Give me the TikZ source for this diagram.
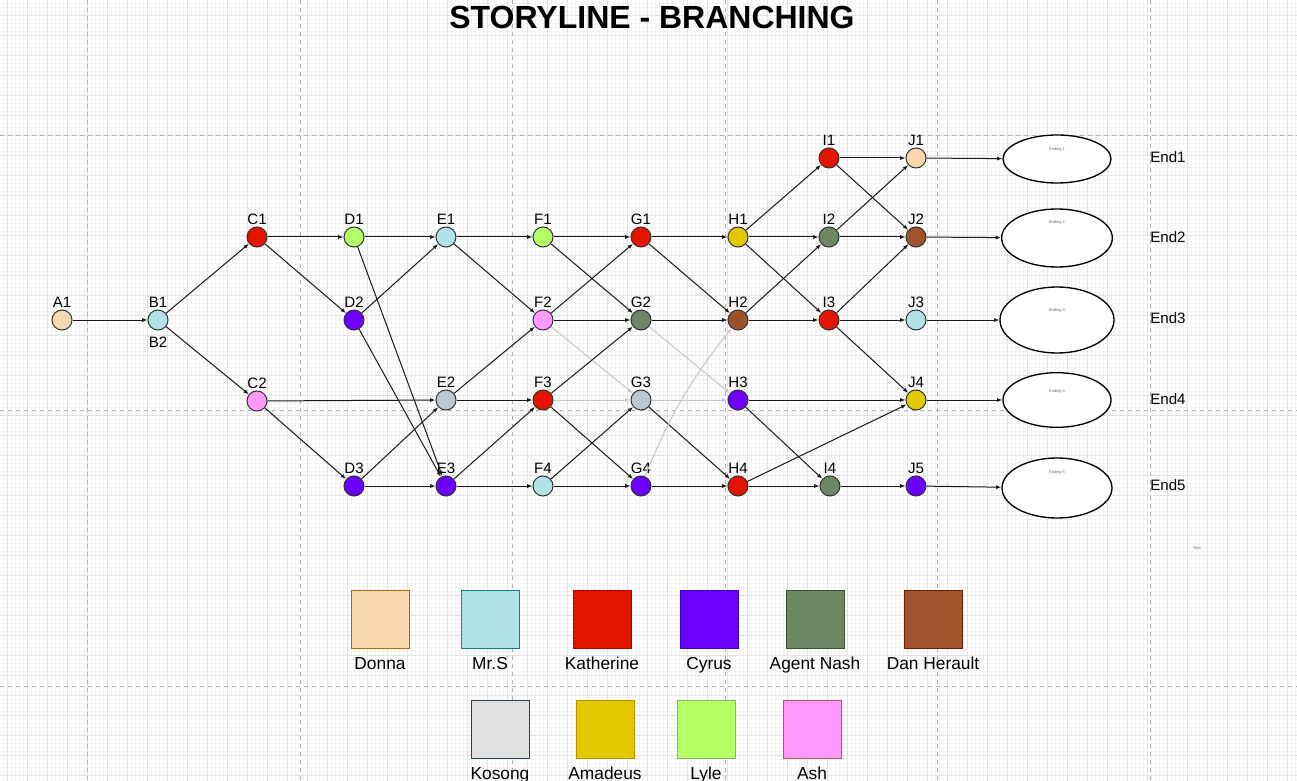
\documentclass[tikz,border=0pt]{standalone}
\usepackage{fontspec}
\setmainfont{Liberation Sans}
\usetikzlibrary{arrows.meta,shapes.geometric}
\definecolor{cDonna}{HTML}{FAD7AC}\definecolor{sDonna}{HTML}{B46504}
\definecolor{cMrs}{HTML}{B0E3E6}\definecolor{sMrs}{HTML}{0E8088}
\definecolor{cKath}{HTML}{E51400}\definecolor{sKath}{HTML}{B20000}
\definecolor{cCyrus}{HTML}{6A00FF}\definecolor{sCyrus}{HTML}{3700CC}
\definecolor{cNash}{HTML}{6D8764}\definecolor{sNash}{HTML}{3A5431}
\definecolor{cDan}{HTML}{A0522D}\definecolor{sDan}{HTML}{6D1F00}
\definecolor{cKos}{HTML}{BAC8D3}\definecolor{cKosL}{HTML}{E0E0E0}\definecolor{sKos}{HTML}{23445D}
\definecolor{cAma}{HTML}{E3C800}\definecolor{sAma}{HTML}{B09500}
\definecolor{cLyle}{HTML}{B3FF66}\definecolor{sLyle}{HTML}{82B366}
\definecolor{cAsh}{HTML}{FF99FF}\definecolor{sAsh}{HTML}{B85450}
\definecolor{gMinor}{HTML}{F4F4F4}\definecolor{gMajor}{HTML}{E2E2E2}\definecolor{gDash}{HTML}{B0B0B0}
\begin{document}
\begin{tikzpicture}[x=0.75pt,y=-0.75pt,
  pt/.style={circle,draw=black!80,line width=0.75pt,fill=#1,minimum size=15pt,inner sep=0pt},
  lbl/.style={font=\fontsize{11.3}{13}\selectfont,inner sep=1.3pt,label distance=0pt},
  edge/.style={draw=black!90,line width=0.75pt,-{Latex[length=4pt,width=3pt]}},
  ledge/.style={draw=black!22,line width=0.75pt,-{Latex[length=4pt,width=3pt]}},
  endell/.style={ellipse,draw=black,line width=1pt,fill=white,inner sep=0pt},
  endtxt/.style={font=\fontsize{11.3}{13}\selectfont,anchor=base},
  tiny/.style={font=\fontsize{3}{3.5}\selectfont,text=black!60},
  legbox/.style={draw=#1,line width=0.75pt,minimum width=43.5pt,minimum height=43.5pt,inner sep=0pt},
  legtxt/.style={font=\fontsize{13}{15}\selectfont,anchor=base}]
\useasboundingbox (0,0) rectangle (1297,781);
\clip (0,0) rectangle (1297,781);
\fill[white] (0,0) rectangle (1297,781);
% background grid
\foreach \i in {0,...,324} {\draw[gMinor,line width=0.4pt] ({3.3+4*\i},0) -- ++(0,781);}
\foreach \j in {0,...,195} {\draw[gMinor,line width=0.4pt] (0,{3+4*\j}) -- ++(1297,0);}
\foreach \i in {0,...,64} {\draw[gMajor,line width=0.6pt] ({7.3+20*\i},0) -- ++(0,781);}
\foreach \j in {0,...,38} {\draw[gMajor,line width=0.6pt] (0,{15+20*\j}) -- ++(1297,0);}
\foreach \i in {0,...,5} {\draw[gDash,line width=0.6pt,dash pattern=on 3pt off 3pt] ({87.3+212.6*\i},0) -- ++(0,781);}
\foreach \y in {135,410.5,686} {\draw[gDash,line width=0.6pt,dash pattern=on 3pt off 3pt] (0,\y) -- ++(1297,0);}
% title
\node[font=\fontsize{24}{28}\selectfont\bfseries] (title) at (652,17) {STORYLINE - BRANCHING};
% nodes
\node[pt=cDonna,label={[lbl]above:A1}] (A1) at (62,320) {};
\node[pt=cMrs,label={[lbl]above:B1}] (B1) at (158,320) {};
\node[lbl,anchor=base] (B2) at (158,348) {B2};
\node[pt=cKath,label={[lbl]above:C1}] (C1) at (257,237) {};
\node[pt=cAsh,label={[lbl]above:C2}] (C2) at (257,401) {};
\node[pt=cLyle,label={[lbl]above:D1}] (D1) at (354,237) {};
\node[pt=cCyrus,label={[lbl]above:D2}] (D2) at (354,320) {};
\node[pt=cCyrus,label={[lbl]above:D3}] (D3) at (354,486) {};
\node[pt=cMrs,label={[lbl]above:E1}] (E1) at (446,237) {};
\node[pt=cKos,label={[lbl]above:E2}] (E2) at (446,400) {};
\node[pt=cCyrus,label={[lbl]above:E3}] (E3) at (446,486) {};
\node[pt=cLyle,label={[lbl]above:F1}] (F1) at (543,237) {};
\node[pt=cAsh,label={[lbl]above:F2}] (F2) at (543,320) {};
\node[pt=cKath,label={[lbl]above:F3}] (F3) at (543,400) {};
\node[pt=cMrs,label={[lbl]above:F4}] (F4) at (543,486) {};
\node[pt=cKath,label={[lbl]above:G1}] (G1) at (641,237) {};
\node[pt=cNash,label={[lbl]above:G2}] (G2) at (641,320) {};
\node[pt=cKos,label={[lbl]above:G3}] (G3) at (641,400) {};
\node[pt=cCyrus,label={[lbl]above:G4}] (G4) at (641,486) {};
\node[pt=cAma,label={[lbl]above:H1}] (H1) at (738,237) {};
\node[pt=cDan,label={[lbl]above:H2}] (H2) at (738,320) {};
\node[pt=cCyrus,label={[lbl]above:H3}] (H3) at (738,400) {};
\node[pt=cKath,label={[lbl]above:H4}] (H4) at (738,486) {};
\node[pt=cKath,label={[lbl]above:I1}] (I1) at (829,158) {};
\node[pt=cNash,label={[lbl]above:I2}] (I2) at (829,237) {};
\node[pt=cKath,label={[lbl]above:I3}] (I3) at (829,320) {};
\node[pt=cNash,label={[lbl]above:I4}] (I4) at (830,486) {};
\node[pt=cDonna,label={[lbl]above:J1}] (J1) at (916,158) {};
\node[pt=cDan,label={[lbl]above:J2}] (J2) at (916,237) {};
\node[pt=cMrs,label={[lbl]above:J3}] (J3) at (916,320) {};
\node[pt=cAma,label={[lbl]above:J4}] (J4) at (916,400) {};
\node[pt=cCyrus,label={[lbl]above:J5}] (J5) at (916,486) {};
% endings
\node[endell,minimum width=81pt,minimum height=36pt] (X1) at (1057,159) {};
\node[endell,minimum width=83pt,minimum height=43.5pt] (X2) at (1057,238) {};
\node[endell,minimum width=85.5pt,minimum height=49.5pt] (X3) at (1057,320) {};
\node[endell,minimum width=81pt,minimum height=41pt] (X4) at (1057,400) {};
\node[endell,minimum width=82.5pt,minimum height=45pt] (X5) at (1057,488) {};
\node[tiny] (t1) at (1057,149) {Ending 1};
\node[tiny] (t2) at (1057,222) {Ending 2};
\node[tiny] (t3) at (1057,310) {Ending 3};
\node[tiny] (t4) at (1057,391) {Ending 4};
\node[tiny] (t5) at (1057,472) {Ending 5};
\node[endtxt] (End1) at (1168,163) {End1};
\node[endtxt] (End2) at (1168,243) {End2};
\node[endtxt] (End3) at (1168,324) {End3};
\node[endtxt] (End4) at (1168,404) {End4};
\node[endtxt] (End5) at (1168,490) {End5};
\node[tiny] (txt) at (1197,548) {Text};
% edges
\draw[edge] (A1) -- (B1);
\draw[edge] (B1) -- (C1); \draw[edge] (B1) -- (C2);
\draw[edge] (C1) -- (D1); \draw[edge] (C1) -- (D2);
\draw[edge] (C2) -- (E2); \draw[edge] (C2) -- (D3);
\draw[edge] (D1) -- (E1); \draw[edge] (D1) -- (E3);
\draw[edge] (D2) -- (E1); \draw[edge] (D2) -- (E3);
\draw[edge] (D3) -- (E2); \draw[edge] (D3) -- (E3);
\draw[edge] (E1) -- (F1); \draw[edge] (E1) -- (F2);
\draw[edge] (E2) -- (F2); \draw[edge] (E2) -- (F3);
\draw[edge] (E3) -- (F3); \draw[edge] (E3) -- (F4);
\draw[edge] (F1) -- (G1); \draw[edge] (F1) -- (G2);
\draw[edge] (F2) -- (G1); \draw[edge] (F2) -- (G2);
\draw[ledge] (F2) -- (G3);
\draw[edge] (F3) -- (G2); \draw[edge] (F3) -- (G4);
\draw[ledge] (F3) -- (G3);
\draw[edge] (F4) -- (G3); \draw[edge] (F4) -- (G4);
\draw[edge] (G1) -- (H1); \draw[edge] (G1) -- (H2);
\draw[edge] (G2) -- (H2); \draw[ledge] (G2) -- (H3);
\draw[ledge] (G3) -- (H3); \draw[edge] (G3) -- (H4);
\draw[edge] (G4) -- (H4); \draw[ledge] (G4) to[bend left=8] (H2);
\draw[edge] (H1) -- (I1); \draw[edge] (H1) -- (I2); \draw[edge] (H1) -- (I3);
\draw[edge] (H2) -- (I2); \draw[edge] (H2) -- (I3);
\draw[edge] (H3) -- (J4); \draw[edge] (H3) -- (I4);
\draw[edge] (H4) -- (I4); \draw[edge] (H4) -- (J4);
\draw[edge] (I1) -- (J1); \draw[edge] (I1) -- (J2);
\draw[edge] (I2) -- (J1); \draw[edge] (I2) -- (J2);
\draw[edge] (I3) -- (J3); \draw[edge] (I3) -- (J2); \draw[edge] (I3) -- (J4);
\draw[edge] (I4) -- (J5);
\draw[edge] (J1) -- (X1); \draw[edge] (J2) -- (X2); \draw[edge] (J3) -- (X3);
\draw[edge] (J4) -- (X4); \draw[edge] (J5) -- (X5);
% legend
\node[legbox=sDonna,fill=cDonna] (LDonna) at (380,619) {};
\node[legbox=sMrs,fill=cMrs] (LMrs) at (490,619) {};
\node[legbox=sKath,fill=cKath] (LKath) at (602,619) {};
\node[legbox=sCyrus,fill=cCyrus] (LCyrus) at (709,619) {};
\node[legbox=sNash,fill=cNash] (LNash) at (815,619) {};
\node[legbox=sDan,fill=cDan] (LDan) at (933,619) {};
\node[legbox=sKos,fill=cKosL] (LKos) at (500,729) {};
\node[legbox=sAma,fill=cAma] (LAma) at (605,729) {};
\node[legbox=sLyle,fill=cLyle] (LLyle) at (706,729) {};
\node[legbox=sAsh,fill=cAsh] (LAsh) at (812,729) {};
\node[legtxt] (tDonna) at (380,669) {Donna};
\node[legtxt] (tMrs) at (490,669) {Mr.S};
\node[legtxt] (tKath) at (602,669) {Katherine};
\node[legtxt] (tCyrus) at (709,669) {Cyrus};
\node[legtxt] (tNash) at (815,669) {Agent Nash};
\node[legtxt] (tDan) at (933,669) {Dan Herault};
\node[legtxt] (tKos) at (500,779) {Kosong};
\node[legtxt] (tAma) at (605,779) {Amadeus};
\node[legtxt] (tLyle) at (706,779) {Lyle};
\node[legtxt] (tAsh) at (812,779) {Ash};
\end{tikzpicture}
\end{document}
